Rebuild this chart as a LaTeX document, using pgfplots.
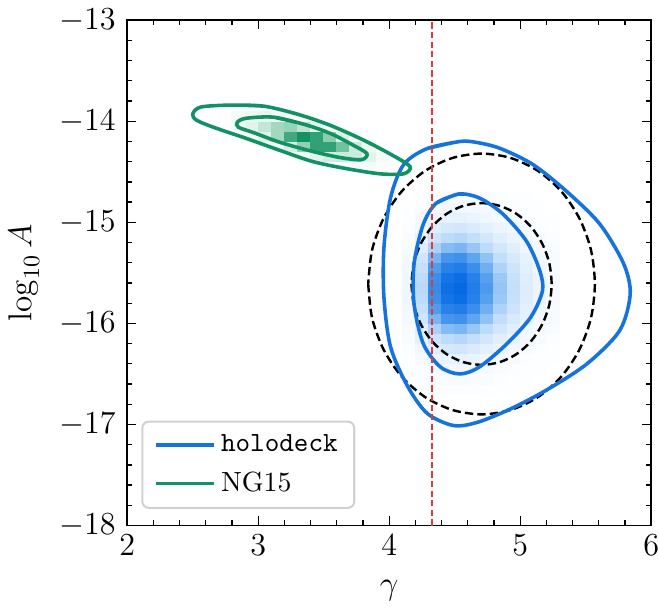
\RequirePackage{fix-cm}
\documentclass[border=0pt]{standalone}
\usepackage{pgfplots}
\usepackage{pgfplotstable}
\pgfplotsset{compat=1.18}
\definecolor{holo}{RGB}{22,115,220}
\definecolor{ngc}{RGB}{17,145,100}
\definecolor{vred}{RGB}{218,60,55}
\pgfplotsset{
  colormap={ngmap}{rgb255=(255,255,255) rgb255=(200,234,218) rgb255=(90,182,142) rgb255=(5,138,90)},
  colormap={holomap}{rgb255=(255,255,255) rgb255=(192,221,250) rgb255=(70,150,236) rgb255=(5,105,228)},
}
% blue (holodeck) 2D histogram, x varies fastest (12 columns)
\pgfplotstableread[row sep=\\]{
x y z\\
4.15 -16.65 0.00\\ 4.25 -16.65 0.01\\ 4.35 -16.65 0.02\\ 4.45 -16.65 0.02\\ 4.55 -16.65 0.02\\ 4.65 -16.65 0.02\\ 4.75 -16.65 0.01\\ 4.85 -16.65 0.01\\ 4.95 -16.65 0.01\\ 5.05 -16.65 0.00\\ 5.15 -16.65 0.00\\ 5.25 -16.65 0.00\\
4.15 -16.55 0.00\\ 4.25 -16.55 0.01\\ 4.35 -16.55 0.03\\ 4.45 -16.55 0.04\\ 4.55 -16.55 0.04\\ 4.65 -16.55 0.03\\ 4.75 -16.55 0.03\\ 4.85 -16.55 0.02\\ 4.95 -16.55 0.01\\ 5.05 -16.55 0.01\\ 5.15 -16.55 0.00\\ 5.25 -16.55 0.00\\
4.15 -16.45 0.01\\ 4.25 -16.45 0.02\\ 4.35 -16.45 0.05\\ 4.45 -16.45 0.07\\ 4.55 -16.45 0.07\\ 4.65 -16.45 0.06\\ 4.75 -16.45 0.05\\ 4.85 -16.45 0.03\\ 4.95 -16.45 0.02\\ 5.05 -16.45 0.01\\ 5.15 -16.45 0.01\\ 5.25 -16.45 0.00\\
4.15 -16.35 0.01\\ 4.25 -16.35 0.05\\ 4.35 -16.35 0.10\\ 4.45 -16.35 0.12\\ 4.55 -16.35 0.13\\ 4.65 -16.35 0.11\\ 4.75 -16.35 0.08\\ 4.85 -16.35 0.06\\ 4.95 -16.35 0.04\\ 5.05 -16.35 0.02\\ 5.15 -16.35 0.01\\ 5.25 -16.35 0.01\\
4.15 -16.25 0.02\\ 4.25 -16.25 0.08\\ 4.35 -16.25 0.17\\ 4.45 -16.25 0.22\\ 4.55 -16.25 0.23\\ 4.65 -16.25 0.20\\ 4.75 -16.25 0.15\\ 4.85 -16.25 0.10\\ 4.95 -16.25 0.07\\ 5.05 -16.25 0.04\\ 5.15 -16.25 0.02\\ 5.25 -16.25 0.01\\
4.15 -16.15 0.03\\ 4.25 -16.15 0.13\\ 4.35 -16.15 0.27\\ 4.45 -16.15 0.34\\ 4.55 -16.15 0.36\\ 4.65 -16.15 0.31\\ 4.75 -16.15 0.23\\ 4.85 -16.15 0.16\\ 4.95 -16.15 0.11\\ 5.05 -16.15 0.06\\ 5.15 -16.15 0.04\\ 5.25 -16.15 0.02\\
4.15 -16.05 0.04\\ 4.25 -16.05 0.18\\ 4.35 -16.05 0.39\\ 4.45 -16.05 0.49\\ 4.55 -16.05 0.52\\ 4.65 -16.05 0.44\\ 4.75 -16.05 0.34\\ 4.85 -16.05 0.23\\ 4.95 -16.05 0.16\\ 5.05 -16.05 0.09\\ 5.15 -16.05 0.05\\ 5.25 -16.05 0.03\\
4.15 -15.95 0.06\\ 4.25 -15.95 0.25\\ 4.35 -15.95 0.53\\ 4.45 -15.95 0.67\\ 4.55 -15.95 0.70\\ 4.65 -15.95 0.60\\ 4.75 -15.95 0.46\\ 4.85 -15.95 0.32\\ 4.95 -15.95 0.21\\ 5.05 -15.95 0.13\\ 5.15 -15.95 0.07\\ 5.25 -15.95 0.04\\
4.15 -15.85 0.07\\ 4.25 -15.85 0.30\\ 4.35 -15.85 0.64\\ 4.45 -15.85 0.81\\ 4.55 -15.85 0.85\\ 4.65 -15.85 0.72\\ 4.75 -15.85 0.55\\ 4.85 -15.85 0.38\\ 4.95 -15.85 0.26\\ 5.05 -15.85 0.15\\ 5.15 -15.85 0.09\\ 5.25 -15.85 0.04\\
4.15 -15.75 0.08\\ 4.25 -15.75 0.34\\ 4.35 -15.75 0.72\\ 4.45 -15.75 0.91\\ 4.55 -15.75 0.96\\ 4.65 -15.75 0.82\\ 4.75 -15.75 0.62\\ 4.85 -15.75 0.43\\ 4.95 -15.75 0.29\\ 5.05 -15.75 0.17\\ 5.15 -15.75 0.10\\ 5.25 -15.75 0.05\\
4.15 -15.65 0.08\\ 4.25 -15.65 0.35\\ 4.35 -15.65 0.75\\ 4.45 -15.65 0.95\\ 4.55 -15.65 1.00\\ 4.65 -15.65 0.85\\ 4.75 -15.65 0.65\\ 4.85 -15.65 0.45\\ 4.95 -15.65 0.30\\ 5.05 -15.65 0.18\\ 5.15 -15.65 0.10\\ 5.25 -15.65 0.05\\
4.15 -15.55 0.08\\ 4.25 -15.55 0.34\\ 4.35 -15.55 0.72\\ 4.45 -15.55 0.91\\ 4.55 -15.55 0.96\\ 4.65 -15.55 0.82\\ 4.75 -15.55 0.62\\ 4.85 -15.55 0.43\\ 4.95 -15.55 0.29\\ 5.05 -15.55 0.17\\ 5.15 -15.55 0.10\\ 5.25 -15.55 0.05\\
4.15 -15.45 0.07\\ 4.25 -15.45 0.30\\ 4.35 -15.45 0.64\\ 4.45 -15.45 0.81\\ 4.55 -15.45 0.85\\ 4.65 -15.45 0.72\\ 4.75 -15.45 0.55\\ 4.85 -15.45 0.38\\ 4.95 -15.45 0.26\\ 5.05 -15.45 0.15\\ 5.15 -15.45 0.09\\ 5.25 -15.45 0.04\\
4.15 -15.35 0.06\\ 4.25 -15.35 0.25\\ 4.35 -15.35 0.53\\ 4.45 -15.35 0.67\\ 4.55 -15.35 0.70\\ 4.65 -15.35 0.60\\ 4.75 -15.35 0.46\\ 4.85 -15.35 0.32\\ 4.95 -15.35 0.21\\ 5.05 -15.35 0.13\\ 5.15 -15.35 0.07\\ 5.25 -15.35 0.04\\
4.15 -15.25 0.04\\ 4.25 -15.25 0.18\\ 4.35 -15.25 0.39\\ 4.45 -15.25 0.49\\ 4.55 -15.25 0.52\\ 4.65 -15.25 0.44\\ 4.75 -15.25 0.34\\ 4.85 -15.25 0.23\\ 4.95 -15.25 0.16\\ 5.05 -15.25 0.09\\ 5.15 -15.25 0.05\\ 5.25 -15.25 0.03\\
4.15 -15.15 0.03\\ 4.25 -15.15 0.13\\ 4.35 -15.15 0.27\\ 4.45 -15.15 0.34\\ 4.55 -15.15 0.36\\ 4.65 -15.15 0.31\\ 4.75 -15.15 0.23\\ 4.85 -15.15 0.16\\ 4.95 -15.15 0.11\\ 5.05 -15.15 0.06\\ 5.15 -15.15 0.04\\ 5.25 -15.15 0.02\\
4.15 -15.05 0.02\\ 4.25 -15.05 0.08\\ 4.35 -15.05 0.17\\ 4.45 -15.05 0.22\\ 4.55 -15.05 0.23\\ 4.65 -15.05 0.20\\ 4.75 -15.05 0.15\\ 4.85 -15.05 0.10\\ 4.95 -15.05 0.07\\ 5.05 -15.05 0.04\\ 5.15 -15.05 0.02\\ 5.25 -15.05 0.01\\
4.15 -14.95 0.01\\ 4.25 -14.95 0.05\\ 4.35 -14.95 0.10\\ 4.45 -14.95 0.12\\ 4.55 -14.95 0.13\\ 4.65 -14.95 0.11\\ 4.75 -14.95 0.08\\ 4.85 -14.95 0.06\\ 4.95 -14.95 0.04\\ 5.05 -14.95 0.02\\ 5.15 -14.95 0.01\\ 5.25 -14.95 0.01\\
4.15 -14.85 0.01\\ 4.25 -14.85 0.02\\ 4.35 -14.85 0.05\\ 4.45 -14.85 0.07\\ 4.55 -14.85 0.07\\ 4.65 -14.85 0.06\\ 4.75 -14.85 0.05\\ 4.85 -14.85 0.03\\ 4.95 -14.85 0.02\\ 5.05 -14.85 0.01\\ 5.15 -14.85 0.01\\ 5.25 -14.85 0.00\\
4.15 -14.75 0.00\\ 4.25 -14.75 0.01\\ 4.35 -14.75 0.03\\ 4.45 -14.75 0.04\\ 4.55 -14.75 0.04\\ 4.65 -14.75 0.03\\ 4.75 -14.75 0.03\\ 4.85 -14.75 0.02\\ 4.95 -14.75 0.01\\ 5.05 -14.75 0.01\\ 5.15 -14.75 0.00\\ 5.25 -14.75 0.00\\
}\holohist
% green (NG15) 2D histogram, x varies fastest (13 columns)
\pgfplotstableread[row sep=\\]{
x y z\\
2.75 -14.45 0.00\\ 2.85 -14.45 0.00\\ 2.95 -14.45 0.00\\ 3.05 -14.45 0.00\\ 3.15 -14.45 0.00\\ 3.25 -14.45 0.00\\ 3.35 -14.45 0.00\\ 3.45 -14.45 0.01\\ 3.55 -14.45 0.02\\ 3.65 -14.45 0.04\\ 3.75 -14.45 0.06\\ 3.85 -14.45 0.06\\ 3.95 -14.45 0.03\\
2.75 -14.35 0.00\\ 2.85 -14.35 0.00\\ 2.95 -14.35 0.00\\ 3.05 -14.35 0.00\\ 3.15 -14.35 0.00\\ 3.25 -14.35 0.02\\ 3.35 -14.35 0.06\\ 3.45 -14.35 0.17\\ 3.55 -14.35 0.27\\ 3.65 -14.35 0.32\\ 3.75 -14.35 0.31\\ 3.85 -14.35 0.17\\ 3.95 -14.35 0.06\\
2.75 -14.25 0.00\\ 2.85 -14.25 0.00\\ 2.95 -14.25 0.00\\ 3.05 -14.25 0.02\\ 3.15 -14.25 0.09\\ 3.25 -14.25 0.25\\ 3.35 -14.25 0.50\\ 3.45 -14.25 0.82\\ 3.55 -14.25 0.82\\ 3.65 -14.25 0.59\\ 3.75 -14.25 0.31\\ 3.85 -14.25 0.11\\ 3.95 -14.25 0.02\\
2.75 -14.15 0.00\\ 2.85 -14.15 0.01\\ 2.95 -14.15 0.06\\ 3.05 -14.15 0.19\\ 3.15 -14.15 0.45\\ 3.25 -14.15 0.76\\ 3.35 -14.15 0.94\\ 3.45 -14.15 0.82\\ 3.55 -14.15 0.52\\ 3.65 -14.15 0.23\\ 3.75 -14.15 0.06\\ 3.85 -14.15 0.01\\ 3.95 -14.15 0.00\\
2.75 -14.05 0.01\\ 2.85 -14.05 0.06\\ 2.95 -14.05 0.17\\ 3.05 -14.05 0.35\\ 3.15 -14.05 0.45\\ 3.25 -14.05 0.48\\ 3.35 -14.05 0.37\\ 3.45 -14.05 0.17\\ 3.55 -14.05 0.07\\ 3.65 -14.05 0.02\\ 3.75 -14.05 0.01\\ 3.85 -14.05 0.00\\ 3.95 -14.05 0.00\\
2.75 -13.95 0.02\\ 2.85 -13.95 0.07\\ 2.95 -13.95 0.11\\ 3.05 -13.95 0.14\\ 3.15 -13.95 0.09\\ 3.25 -13.95 0.06\\ 3.35 -13.95 0.03\\ 3.45 -13.95 0.01\\ 3.55 -13.95 0.00\\ 3.65 -13.95 0.00\\ 3.75 -13.95 0.00\\ 3.85 -13.95 0.00\\ 3.95 -13.95 0.00\\
}\nghist
\begin{document}
\begin{tikzpicture}
\begin{axis}[
  width=205.7pt, height=198.4pt, scale only axis,
  xmin=2, xmax=6, ymin=-18, ymax=-13,
  xtick={2,3,4,5,6}, ytick={-18,-17,-16,-15,-14,-13},
  minor x tick num=4, minor y tick num=4,
  tick align=inside, xtick pos=both, ytick pos=both,
  major tick length=3.6pt, minor tick length=2pt,
  tick style={black, line width=0.5pt},
  axis line style={black, line width=0.6pt},
  tick label style={font=\fontsize{12.6}{15}\selectfont},
  xticklabel style={inner xsep=0pt},
  yticklabel style={xshift=-1pt},
  xlabel={$\gamma$}, ylabel={$\log_{10} A$},
  xlabel shift=3.1pt, ylabel shift=1pt,
  label style={font=\fontsize{13}{16}\selectfont},
  point meta min=0, point meta max=1,
  legend style={at={(0.027,0.033)}, anchor=south west, draw=black!18, line width=0.8pt,
    rounded corners=2.5pt, font=\fontsize{10.9}{13}\selectfont, row sep=2.5pt,
    inner xsep=4.5pt, inner ysep=3pt, cells={anchor=west}},
  legend image code/.code={\draw[#1] (0pt,0pt) -- (23pt,0pt);},
]
\addlegendimage{holo, line width=1.4pt}
\addlegendentry{\texttt{holodeck}}
\addlegendimage{ngc, line width=1.4pt}
\addlegendentry{NG15}

\addplot[matrix plot*, mesh/cols=12, colormap name=holomap, point meta=explicit, forget plot] table[x=x, y=y, meta=z] {\holohist};
\addplot[matrix plot*, mesh/cols=13, colormap name=ngmap, point meta=explicit, forget plot] table[x=x, y=y, meta=z] {\nghist};

% black dashed ellipses
\addplot[black, line width=0.95pt, dash pattern=on 3.3pt off 1.6pt, smooth, forget plot] coordinates {
(3.840,-15.610) (3.869,-15.944) (3.956,-16.255) (4.093,-16.522) (4.272,-16.727) (4.481,-16.856) (4.705,-16.900) (4.929,-16.856) (5.138,-16.727) (5.317,-16.522) (5.454,-16.255) (5.541,-15.944) (5.570,-15.610) (5.541,-15.276) (5.454,-14.965) (5.317,-14.698) (5.138,-14.493) (4.929,-14.364) (4.705,-14.320) (4.481,-14.364) (4.272,-14.493) (4.093,-14.698) (3.956,-14.965) (3.869,-15.276) (3.840,-15.610)};
\addplot[black, line width=0.95pt, dash pattern=on 3.3pt off 1.6pt, smooth, forget plot] coordinates {
(4.170,-15.610) (4.188,-15.817) (4.242,-16.010) (4.327,-16.176) (4.437,-16.303) (4.566,-16.383) (4.705,-16.410) (4.844,-16.383) (4.973,-16.303) (5.083,-16.176) (5.168,-16.010) (5.222,-15.817) (5.240,-15.610) (5.222,-15.403) (5.168,-15.210) (5.083,-15.044) (4.973,-14.917) (4.844,-14.837) (4.705,-14.810) (4.566,-14.837) (4.437,-14.917) (4.327,-15.044) (4.242,-15.210) (4.188,-15.403) (4.170,-15.610)};

% holodeck contours
\addplot[holo, line width=1.4pt, smooth, forget plot] coordinates {
(4.54,-14.20) (4.29,-14.27) (4.11,-14.43) (4.01,-14.76) (3.96,-15.25) (3.96,-15.74) (4.01,-16.23) (4.14,-16.62) (4.29,-16.89) (4.49,-17.01) (4.67,-16.98) (4.92,-16.85) (5.20,-16.66) (5.51,-16.40) (5.76,-16.07) (5.84,-15.71) (5.79,-15.41) (5.61,-15.02) (5.36,-14.70) (5.10,-14.43) (4.85,-14.27) (4.67,-14.21) (4.54,-14.20) (4.29,-14.27)};
\addplot[holo, line width=1.4pt, smooth, forget plot] coordinates {
(4.53,-14.72) (4.36,-14.81) (4.26,-15.02) (4.19,-15.41) (4.19,-15.81) (4.26,-16.20) (4.39,-16.43) (4.54,-16.50) (4.69,-16.43) (4.90,-16.20) (5.08,-15.94) (5.17,-15.68) (5.15,-15.48) (5.05,-15.19) (4.87,-14.92) (4.69,-14.76) (4.53,-14.72) (4.36,-14.81)};

% NG15 contours
\addplot[ngc, line width=1.4pt, smooth, forget plot] coordinates {
(2.79,-13.84) (3.04,-13.85) (3.30,-13.93) (3.55,-14.04) (3.81,-14.19) (4.03,-14.34) (4.16,-14.45) (4.11,-14.52) (3.93,-14.52) (3.68,-14.47) (3.42,-14.40) (3.17,-14.29) (2.91,-14.17) (2.66,-14.06) (2.53,-13.99) (2.50,-13.93) (2.56,-13.86) (2.79,-13.84) (3.04,-13.85)};
\addplot[ngc, line width=1.4pt, smooth, forget plot] coordinates {
(3.12,-13.96) (3.35,-14.03) (3.55,-14.12) (3.73,-14.24) (3.83,-14.32) (3.79,-14.38) (3.63,-14.36) (3.42,-14.30) (3.17,-14.21) (2.96,-14.11) (2.85,-14.06) (2.84,-14.01) (2.91,-13.97) (3.12,-13.96) (3.35,-14.03)};

% vertical reference line
\addplot[vred, line width=0.85pt, dash pattern=on 2.5pt off 1.25pt, forget plot] coordinates {(4.33,-18) (4.33,-13)};
\end{axis}
\end{tikzpicture}
\end{document}
